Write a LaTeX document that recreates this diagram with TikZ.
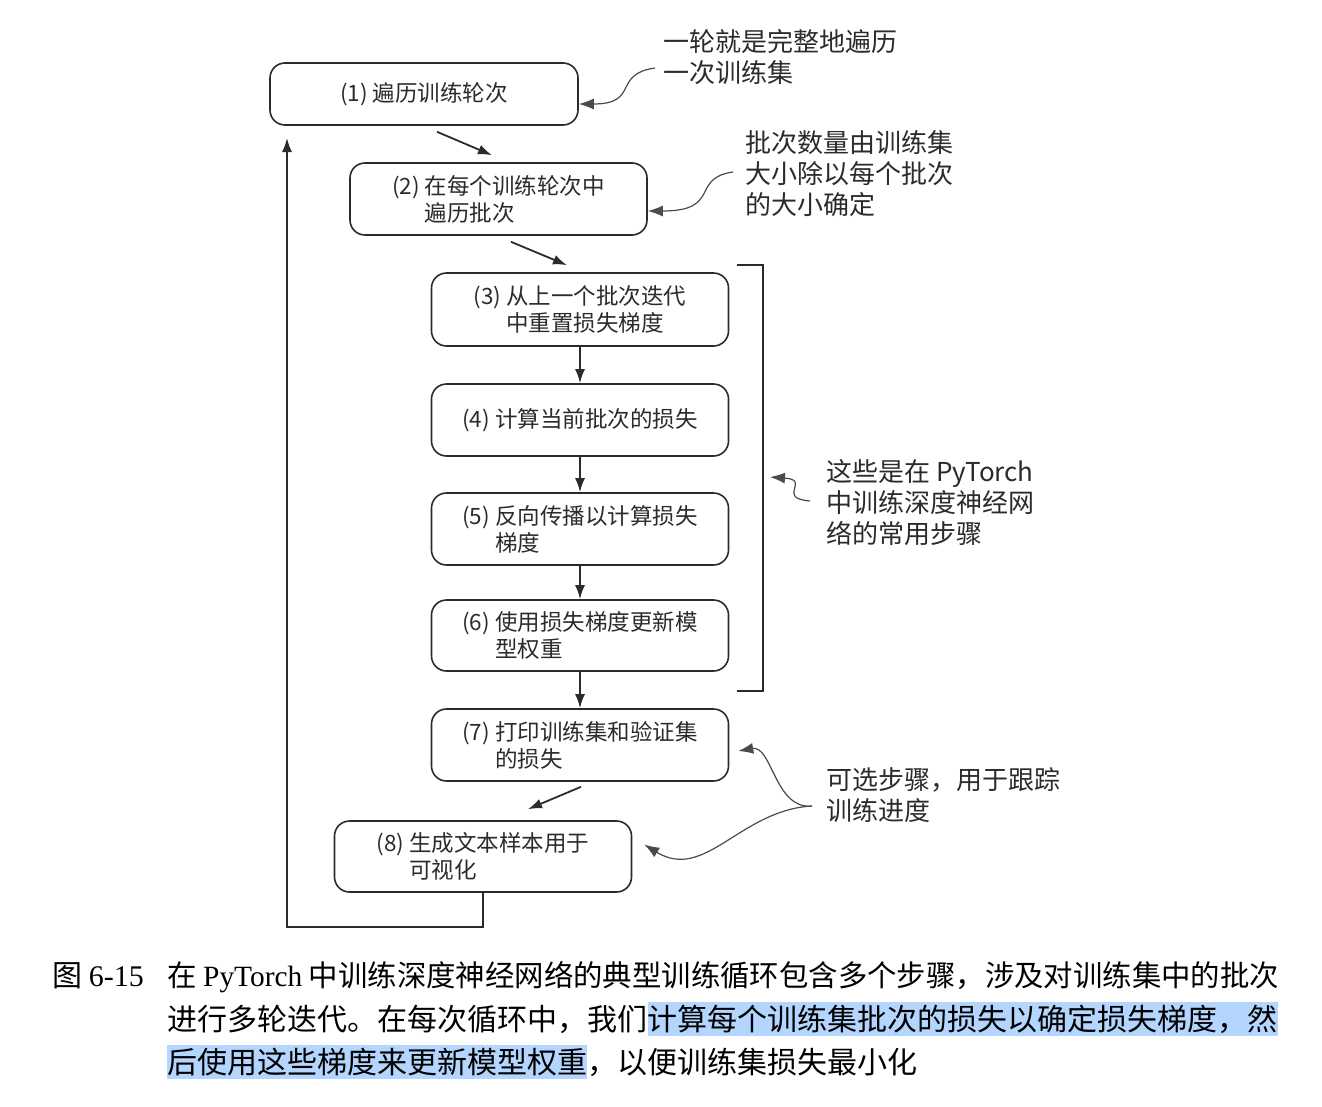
\documentclass[tikz,border=0pt]{standalone}
\usepackage{fontspec}
\setmainfont{Noto Sans CJK SC}
\newfontfamily\latinserif{Liberation Serif}
\usepackage{xcolor}
\usepackage{tikz}
\usetikzlibrary{positioning,arrows.meta}

\definecolor{ink}{HTML}{2B2B2B}
\definecolor{hilite}{HTML}{B4D5FE}
\newcommand\stepfont{\fontsize{22.5pt}{27pt}\selectfont}
\newcommand\notefont{\fontsize{26pt}{31pt}\selectfont}
\newcommand\capfont{\fontsize{30pt}{36pt}\selectfont}

\tikzset{
  stepbox/.style={draw=ink,line width=1.6pt,rounded corners=15pt,minimum width=297pt,
    minimum height=72pt,align=left,font=\stepfont,text=ink,inner sep=0pt},
  flow/.style={draw=ink,line width=1.8pt,-{Latex[length=14pt,width=10pt]}},
  curvy/.style={draw=ink!85,line width=1.2pt,-{Latex[length=15pt,width=11pt]}},
  note/.style={anchor=base west,align=left,font=\notefont,text=ink,inner sep=0pt},
  captext/.style={anchor=base west,inner xsep=0pt,inner ysep=2pt,font=\capfont,
    text height=26pt,text depth=4pt,text=black},
}

\begin{document}
\begin{tikzpicture}[x=1pt,y=-1pt]
\useasboundingbox (0,0) rectangle (1322,1106);

\node[stepbox,minimum width=308pt,minimum height=62pt] (b1) at (424,94) {(1) 遍历训练轮次};
\node[stepbox] (b2) at (498.5,199) {(2) 在每个训练轮次中\\\hphantom{(2) }遍历批次};
\node[stepbox,minimum height=73pt] (b3) at (580,309.5) {(3) 从上一个批次迭代\\\hphantom{(3) }中重置损失梯度};
\node[stepbox] (b4) at (580,420) {(4) 计算当前批次的损失};
\node[stepbox] (b5) at (580,529) {(5) 反向传播以计算损失\\\hphantom{(5) }梯度};
\node[stepbox,minimum height=71pt] (b6) at (580,635.5) {(6) 使用损失梯度更新模\\\hphantom{(6) }型权重};
\node[stepbox] (b7) at (580,745) {(7) 打印训练集和验证集\\\hphantom{(7) }的损失};
\node[stepbox,minimum height=71pt] (b8) at (483,856.5) {(8) 生成文本样本用于\\\hphantom{(8) }可视化};

\draw[flow] ([xshift=13pt,yshift=-6pt]b1.south) -- ([xshift=-6.5pt,yshift=7pt]b2.north);
\draw[flow] ([xshift=12.5pt,yshift=-6pt]b2.south) -- ([xshift=-13pt,yshift=7pt]b3.north);
\draw[flow] (b3) -- (b4);
\draw[flow] (b4) -- (b5);
\draw[flow] (b5) -- (b6);
\draw[flow] (b6) -- (b7);
\draw[flow] ([xshift=1pt,yshift=-5pt]b7.south) -- ([xshift=45pt,yshift=11pt]b8.north);
\coordinate (loopend) at (287,138);
\draw[flow,line width=1.6pt] (b8.south) -- ++(0,34) -| (loopend);

\draw[draw=ink,line width=1.6pt] (737,265) -- (763,265) -- (763,691) -- (737,691);

\node[note] (n1) at (663,82.5) {一轮就是完整地遍历\\一次训练集};
\node[note] (n2) at (745,214.5) {批次数量由训练集\\大小除以每个批次\\的大小确定};
\node[note] (n3) at (826,543.5) {这些是在 PyTorch\\中训练深度神经网\\络的常用步骤};
\node[note] (n4) at (826,820.5) {可选步骤，用于跟踪\\训练进度};

\draw[curvy] (655,68) .. controls (612,74) and (640,104) .. (b1.east |- 0,104);
\draw[curvy] (733,172) .. controls (690,178) and (722,211) .. (b2.east |- 0,211);
\draw[curvy] (810,501) .. controls (775,498) and (812,480) .. (770,477);
\draw[curvy] (812,806) .. controls (775,810) and (772,745) .. ([xshift=9pt,yshift=-6pt]b7.east);
\draw[curvy] (812,806) .. controls (740,810) and (705,882) .. ([xshift=12pt,yshift=12pt]b8.east);

\node[captext] (capno) at (52,986) {图 {\latinserif 6-15}};
\node[captext,font=\fontsize{29.4pt}{36pt}\selectfont] (cap1) at (167,986)
  {在 {\latinserif PyTorch} 中训练深度神经网络的典型训练循环包含多个步骤，涉及对训练集中的批次};
\node[captext] (cap2a) at (167,1030) {进行多轮迭代。在每次循环中，我们};
\node[captext,anchor=west,fill=hilite,right=0pt of cap2a] (cap2b) {计算每个训练集批次的损失以确定损失梯度，然};
\node[captext,fill=hilite] (cap3a) at (167,1073) {后使用这些梯度来更新模型权重};
\node[captext,anchor=west,right=0pt of cap3a] (cap3b) {，以便训练集损失最小化};
\end{tikzpicture}
\end{document}
